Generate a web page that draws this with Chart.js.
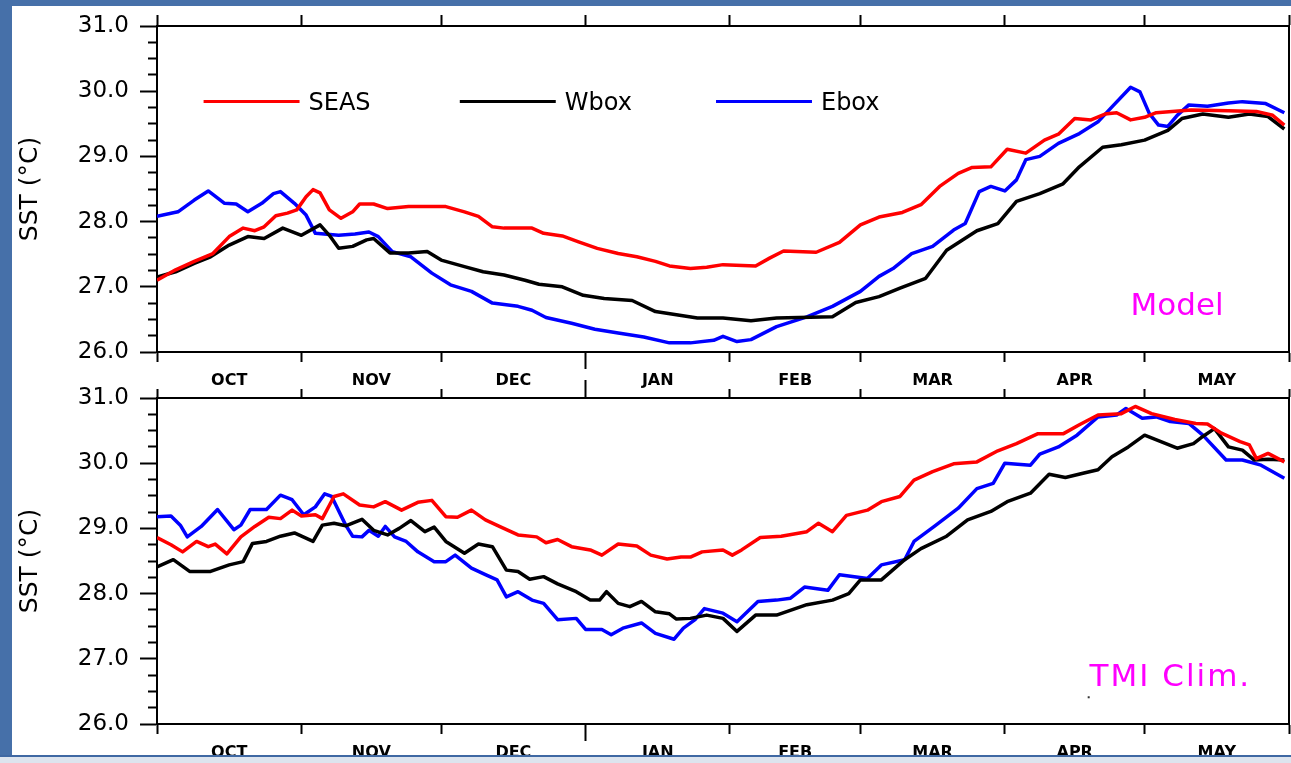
<!DOCTYPE html>
<html>
<head>
<meta charset="utf-8">
<title>SST seasonal cycle: Model vs TMI Clim.</title>
<script src="https://cdn.jsdelivr.net/npm/chart.js@4/dist/chart.umd.min.js"></script>
<style>
  html, body { margin: 0; padding: 0; }
  body { width: 1291px; height: 763px; background: #4670a9; position: relative; overflow: hidden; }
  #panel { position: absolute; left: 12px; top: 6px; width: 1279px; height: 749px; background: #ffffff; }
  #foot { position: absolute; left: 0; top: 755px; width: 1291px; height: 8px; background: #dde4ee; border-top: 2px solid #3f68a3; box-sizing: border-box; }
  canvas { position: absolute; left: 0; }
  #modelChart { top: 0; }
  #tmiChart { top: 372px; }
</style>
</head>
<body>
<div id="panel"></div>
<div id="foot"></div>
<canvas id="modelChart" width="1291" height="392"></canvas>
<canvas id="tmiChart" width="1291" height="383"></canvas>
<script>
// Day 0 = 1 Oct, day 243 = 31 May
const monthEdges = [0, 31, 61, 92, 123, 151, 182, 212, 243];
const monthNames = ['OCT', 'NOV', 'DEC', 'JAN', 'FEB', 'MAR', 'APR', 'MAY'];
const yearBreak = 92;
const sstTicks = [26, 27, 28, 29, 30, 31];
const seriesNames = ['SEAS', 'Wbox', 'Ebox'];

// ---- Model ----
const modelSeasDays = [0,4,8,12,15.5,18.5,21,23,25.5,28,30,32,33.5,35,37,39.5,42,43.5,46.5,49.5,54,62,66,69,72,74.5,80.5,83,87,90.5,94.5,99,103,107,110,114.5,118,121.5,128.5,131.5,134.5,141.5,146.5,151,155,160,164,168,172,175,179,182.5,186.5,190.5,193.5,197,200.5,203.5,206,209,212,214.5,222,230,236,239.5,242];
const modelSeasSST = [27.10,27.26,27.39,27.51,27.77,27.90,27.86,27.92,28.09,28.13,28.18,28.38,28.49,28.44,28.18,28.05,28.15,28.27,28.27,28.20,28.23,28.23,28.15,28.08,27.92,27.90,27.90,27.82,27.78,27.69,27.59,27.51,27.46,27.39,27.32,27.28,27.30,27.34,27.32,27.44,27.55,27.53,27.68,27.95,28.07,28.14,28.26,28.54,28.74,28.83,28.84,29.11,29.05,29.25,29.34,29.58,29.56,29.65,29.67,29.56,29.60,29.67,29.71,29.70,29.69,29.63,29.48];

const modelWboxDays = [0,4,8,11.5,15.5,19.5,23,27,31,35,37,39,42,45,46.5,50,54,58,61,66,70,74.5,79,82,87,91.5,96,102,107,111.5,116,121.5,127.5,133,145,150,155,159.5,165,169.5,176,180.5,184.5,189.5,194.5,198,203,207,212,217,220,224.5,230,234.5,238.5,242];
const modelWboxSST = [27.15,27.23,27.36,27.46,27.64,27.77,27.74,27.90,27.79,27.95,27.79,27.59,27.62,27.72,27.74,27.52,27.52,27.54,27.41,27.31,27.23,27.18,27.10,27.04,27.00,26.87,26.82,26.79,26.62,26.57,26.52,26.52,26.48,26.52,26.54,26.76,26.85,26.98,27.13,27.56,27.86,27.97,28.31,28.43,28.58,28.84,29.14,29.18,29.25,29.40,29.58,29.65,29.60,29.65,29.61,29.42];

const modelEboxDays = [0,4.5,8,11,14.5,17,19.5,22.5,25,26.5,29.5,32,34,39,42.5,45.5,47.5,50.5,54.5,59,63,67.5,72,77.5,80.5,83.5,89,94,99,104.5,110,114.5,119.5,121.5,124.5,127.5,133,139.5,145,151,155,158,162,166.5,171,173.5,176.5,179,182,184.5,186.5,189.5,193.5,198,202,205,209,211,213,215,217,219,221.5,225.5,230,233,238,242];
const modelEboxSST = [28.08,28.15,28.33,28.47,28.28,28.27,28.15,28.28,28.43,28.46,28.28,28.10,27.82,27.79,27.81,27.84,27.77,27.54,27.46,27.21,27.03,26.93,26.75,26.70,26.64,26.53,26.44,26.35,26.29,26.23,26.14,26.14,26.18,26.24,26.16,26.19,26.39,26.54,26.70,26.93,27.16,27.28,27.51,27.62,27.87,27.97,28.46,28.54,28.47,28.64,28.95,29.00,29.20,29.35,29.53,29.76,30.06,29.99,29.66,29.48,29.46,29.63,29.79,29.77,29.82,29.84,29.81,29.67];

// ---- TMI climatology ----
const tmiSeasDays = [0,3,5.5,8.5,11,12.5,15,18,21,24,26.5,29,31,34,35.5,38,40,43.5,46.5,49,52.5,56,59,62,64.5,67.5,70.5,73.5,77.5,81.5,83.5,86,89,93,95.5,99,103,106,109.5,112.5,114.5,117,121.5,123.5,125.5,129.5,134,139.5,142,145,148,152.5,155.5,159.5,162.5,166.5,171,176,180.5,184.5,189,194.5,198,202,207,210,213.5,218.5,223,225.5,228.5,232.5,234.5,236,238.5,242];
const tmiSeasSST = [28.86,28.75,28.64,28.80,28.72,28.76,28.61,28.87,29.03,29.17,29.15,29.28,29.19,29.21,29.15,29.49,29.53,29.36,29.33,29.41,29.28,29.40,29.43,29.18,29.17,29.28,29.13,29.03,28.90,28.87,28.78,28.83,28.72,28.67,28.59,28.76,28.73,28.59,28.53,28.56,28.56,28.64,28.67,28.59,28.67,28.86,28.88,28.95,29.08,28.95,29.20,29.28,29.41,29.49,29.74,29.87,29.99,30.02,30.19,30.30,30.45,30.45,30.59,30.74,30.76,30.87,30.76,30.67,30.61,30.60,30.46,30.33,30.28,30.07,30.15,30.02];

const tmiWboxDays = [0,3.5,7,11.5,15.5,18.5,20.5,23.5,26.5,29.5,33.5,35.5,38,40.5,44,46.5,49.5,52,54.5,57.5,59.5,62,66,69,72,75,77.5,80,83,86,90,93,95,96.5,99,101.5,104,107,110,111.5,114.5,118,121.5,124.5,128.5,133,139.5,145,148.5,151,155.5,160.5,164,169.5,174,179,182.5,187.5,191.5,195,199,202,205,208.5,212,215.5,219,222.5,224.5,227,230,233,235.5,238.5,242];
const tmiWboxSST = [28.41,28.52,28.34,28.34,28.44,28.49,28.77,28.80,28.88,28.93,28.80,29.05,29.08,29.04,29.14,28.97,28.90,29.00,29.12,28.95,29.02,28.80,28.62,28.76,28.72,28.36,28.34,28.22,28.26,28.15,28.03,27.90,27.90,28.03,27.85,27.80,27.88,27.72,27.69,27.61,27.62,27.67,27.62,27.42,27.67,27.67,27.83,27.90,28.00,28.21,28.21,28.52,28.69,28.88,29.13,29.26,29.41,29.54,29.83,29.78,29.85,29.90,30.10,30.25,30.43,30.33,30.23,30.30,30.41,30.53,30.25,30.20,30.05,30.06,30.05];

const tmiEboxDays = [0,3,5,6.5,9.5,13,16.5,18,20,23.5,26.5,29,31.5,34,36,37.5,40.5,42,44,45.5,47.5,49,51,53.5,56,59.5,62,64,67.5,70.5,73,75,77.5,80.5,83,86,90,92,95.5,97.5,100,104,107,111,113,115.5,117.5,121.5,124.5,129,133,136,139,144,146.5,152.5,155.5,160.5,162.5,167,172,176,179.5,182,187.5,189.5,193.5,197.5,202,206,208,211.5,214.5,217.5,221.5,224.5,229.5,233,237,242];
const tmiEboxSST = [29.18,29.19,29.05,28.87,29.03,29.29,28.98,29.05,29.29,29.29,29.51,29.44,29.21,29.33,29.53,29.49,29.05,28.88,28.87,28.97,28.88,29.03,28.87,28.80,28.64,28.49,28.49,28.59,28.39,28.29,28.21,27.95,28.03,27.90,27.85,27.60,27.62,27.45,27.45,27.37,27.47,27.55,27.39,27.30,27.47,27.60,27.77,27.70,27.57,27.88,27.90,27.93,28.10,28.05,28.29,28.23,28.44,28.52,28.80,29.04,29.31,29.61,29.69,30.00,29.97,30.14,30.25,30.43,30.71,30.74,30.84,30.69,30.71,30.64,30.61,30.43,30.05,30.05,29.97,29.77];

const seriesColors = ['#ff0000', '#000000', '#0000ff'];
const FONT = '"DejaVu Sans", "Liberation Sans", sans-serif';

function toPoints(days, values) {
  return days.map((d, i) => ({ x: d, y: values[i] }));
}

const monthMids = monthNames.map((_, i) => (monthEdges[i] + monthEdges[i + 1]) / 2);
const xTickValues = monthEdges.concat(monthMids).sort((a, b) => a - b);
const isEdge = v => monthEdges.includes(v);
const monthLabel = v => {
  const i = monthMids.indexOf(v);
  return i >= 0 ? monthNames[i] : '';
};

// Dash pattern that keeps only the `len` pixels of a tick next to the axis line.
// Bottom ticks run axis -> outward, top ticks run outward -> axis.
const nearAxisFromStart = len => [len, 200];
const nearAxisFromEnd = (total, len) => [0, total - len, len, 200];

// Legend drawn inside the plot frame, one line sample per series
const innerLegend = {
  id: 'innerLegend',
  afterDatasetsDraw(chart, args, opts) {
    if (!opts || !opts.display) return;
    const { ctx, scales } = chart;
    const xs = scales.x, ys = scales.y;
    ctx.save();
    chart.data.datasets.forEach((ds, i) => {
      const d0 = opts.startDay + i * opts.stepDays;
      const x0 = xs.getPixelForValue(d0);
      const x1 = xs.getPixelForValue(d0 + opts.lineDays);
      const yy = Math.round(ys.getPixelForValue(opts.value)) + 0.5;
      ctx.strokeStyle = ds.borderColor;
      ctx.lineWidth = 3;
      ctx.beginPath();
      ctx.moveTo(x0, yy);
      ctx.lineTo(x1, yy);
      ctx.stroke();
      ctx.fillStyle = '#000';
      ctx.font = '24px ' + FONT;
      ctx.textAlign = 'left';
      ctx.textBaseline = 'alphabetic';
      ctx.fillText(ds.label, x1 + 9, yy + 8.5);
    });
    ctx.restore();
  }
};

// Panel tag text (e.g. "Model") anchored at a data position
const panelTag = {
  id: 'panelTag',
  afterDatasetsDraw(chart, args, opts) {
    if (!opts || !opts.text) return;
    const { ctx, scales } = chart;
    const px = scales.x.getPixelForValue(opts.day);
    const py = scales.y.getPixelForValue(opts.value);
    ctx.save();
    ctx.fillStyle = '#ff00ff';
    ctx.font = '31px ' + FONT;
    ctx.letterSpacing = opts.spacing + 'px';
    ctx.textAlign = 'left';
    ctx.textBaseline = 'alphabetic';
    ctx.fillText(opts.text, px, py);
    if (opts.dot) {
      ctx.fillStyle = '#333';
      ctx.fillRect(scales.x.getPixelForValue(opts.dot[0]) - 1, scales.y.getPixelForValue(opts.dot[1]) - 1, 2, 2);
    }
    ctx.restore();
  }
};

function makeScales(bottomHeight, topTick, topYearTick) {
  const bottomYearTick = 17;
  return {
    x: {
      type: 'linear', position: 'bottom', min: 0, max: 243,
      afterBuildTicks: s => { s.ticks = xTickValues.map(v => ({ value: v })); },
      afterFit: s => { s.height = bottomHeight; },
      ticks: {
        autoSkip: false, maxRotation: 0, minRotation: 0, padding: 2,
        color: '#000', font: { family: FONT, size: 16, weight: 'bold' },
        callback: v => monthLabel(v)
      },
      grid: {
        drawOnChartArea: false, tickLength: bottomYearTick, tickWidth: 2,
        tickColor: c => (c.tick && isEdge(c.tick.value)) ? '#000' : 'rgba(0,0,0,0)',
        tickBorderDash: c => (c.tick && c.tick.value === yearBreak) ? [] : nearAxisFromStart(9)
      },
      border: { color: '#000', width: 2 }
    },
    xTop: {
      type: 'linear', position: 'top', min: 0, max: 243,
      afterBuildTicks: s => { s.ticks = monthEdges.map(v => ({ value: v })); },
      afterFit: s => { s.height = 26; },
      ticks: { display: false },
      grid: {
        drawOnChartArea: false, tickLength: topYearTick, tickWidth: 2, tickColor: '#000',
        tickBorderDash: c => (c.tick && c.tick.value === yearBreak) ? [] : nearAxisFromEnd(topYearTick, topTick)
      },
      border: { color: '#000', width: 2 }
    },
    y: {
      type: 'linear', position: 'left', min: 26, max: 31,
      afterFit: s => { s.width = 157; },
      ticks: {
        stepSize: 0.25, autoSkip: false, padding: 11,
        color: '#000', font: { family: FONT, size: 23 },
        callback: v => sstTicks.includes(v) ? v.toFixed(1) : ''
      },
      grid: {
        drawOnChartArea: false, tickLength: 17, tickWidth: 2, tickColor: '#000',
        tickBorderDash: c => (c.tick && sstTicks.includes(c.tick.value)) ? [] : nearAxisFromEnd(17, 9)
      },
      border: { color: '#000', width: 2 },
      title: {
        display: true, text: 'SST (°C)', color: '#000',
        font: { family: FONT, size: 25 }, padding: { top: 15, bottom: 0 }
      }
    },
    yRight: {
      type: 'linear', position: 'right', min: 26, max: 31,
      afterFit: s => { s.width = 2; },
      ticks: { display: false },
      grid: { display: false, drawTicks: false },
      border: { color: '#000', width: 2 }
    }
  };
}

function makeDatasets(dayArrays, valueArrays) {
  return seriesNames.map((name, i) => ({
    label: name,
    data: toPoints(dayArrays[i], valueArrays[i]),
    borderColor: seriesColors[i],
    backgroundColor: seriesColors[i],
    borderWidth: 3.5,
    pointRadius: 0,
    tension: 0,
    fill: false,
    borderJoinStyle: 'round',
    xAxisID: 'x',
    yAxisID: 'y'
  }));
}

function makeChart(canvasId, datasets, axisSizes, legendOpts, tagOpts) {
  return new Chart(document.getElementById(canvasId), {
    type: 'line',
    data: { datasets },
    options: {
      responsive: false,
      animation: false,
      devicePixelRatio: 1,
      events: [],
      layout: { padding: 0 },
      scales: makeScales(axisSizes.bottom, axisSizes.topTick, axisSizes.topYearTick),
      plugins: {
        legend: { display: false },
        tooltip: { enabled: false },
        innerLegend: legendOpts,
        panelTag: tagOpts
      }
    },
    plugins: [innerLegend, panelTag]
  });
}

makeChart('modelChart',
  makeDatasets([modelSeasDays, modelWboxDays, modelEboxDays], [modelSeasSST, modelWboxSST, modelEboxSST]),
  { bottom: 40, topTick: 11, topYearTick: 11 },
  { display: true, startDay: 10, stepDays: 55, lineDays: 20.6, value: 29.855 },
  { text: 'Model', day: 209, value: 26.57, spacing: 0 });

makeChart('tmiChart',
  makeDatasets([tmiSeasDays, tmiWboxDays, tmiEboxDays], [tmiSeasSST, tmiWboxSST, tmiEboxSST]),
  { bottom: 31, topTick: 9, topYearTick: 18 },
  { display: false },
  { text: 'TMI Clim.', day: 200.2, value: 26.58, spacing: 2, dot: [200, 26.41] });
</script>
</body>
</html>
